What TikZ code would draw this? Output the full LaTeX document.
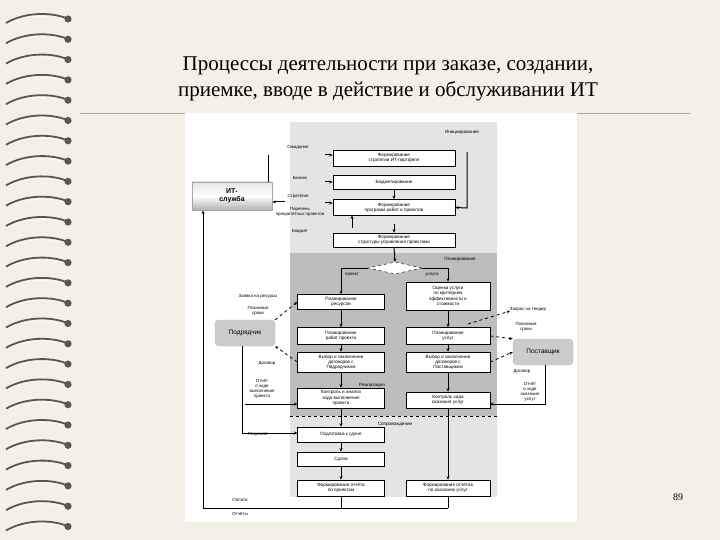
\documentclass[tikz,border=0pt]{standalone}
\usepackage{fontspec}
\setmainfont{Liberation Serif}
\setsansfont{Liberation Sans}
\usetikzlibrary{shapes.geometric,arrows.meta}
\definecolor{slidebg}{HTML}{F4F0E8}
\definecolor{ringc}{HTML}{5A5650}
\definecolor{rulec}{HTML}{B8A888}
\definecolor{panelA}{HTML}{E4E4E4}
\definecolor{panelB}{HTML}{BDBDBD}
\tikzset{
 pb/.style={draw=black,line width=0.6pt,fill=white,font=\sffamily\fontsize{4.6}{5.2}\selectfont,align=center,inner sep=0.5pt},
 lbl/.style={font=\sffamily\fontsize{4.4}{5}\selectfont,align=center,inner sep=0.5pt},
 plbl/.style={font=\sffamily\fontsize{4.6}{5.2}\selectfont,inner sep=0.5pt},
 ar/.style={-{Stealth[length=3.5pt,width=3pt]},line width=1pt},
 ln/.style={line width=1pt},
 dar/.style={-{Stealth[length=3.5pt,width=3pt]},line width=0.8pt,dashed},
 actor/.style={rounded corners=4pt,fill=gray!40,draw=gray!55,font=\sffamily\fontsize{6.5}{7}\selectfont,minimum width=60pt,minimum height=26pt}
}
\begin{document}
\begin{tikzpicture}[x=1pt,y=-1pt]
\useasboundingbox (0,0) rectangle (720,540);
\fill[slidebg] (0,0) rectangle (720,540);
% binder rings
\foreach \k in {0,...,25}{
 \pgfmathsetmacro{\yy}{18+\k*20.3}
 \draw[ringc,line width=1.8pt] (6,\yy+5) .. controls (25,\yy-6) and (50,\yy-6) .. (66,\yy);
 \fill[ringc] (68,\yy+1) circle (3.6pt);
 \draw[white,line width=0.5pt] (8,\yy+6) .. controls (25,\yy-3) and (48,\yy-3) .. (62,\yy+1);
}
% title
\node[font=\fontsize{21}{26}\selectfont,align=center] (title) at (388,79) {Процессы деятельности при заказе, создании,\\приемке, вводе в действие и обслуживании ИТ};
\draw[rulec,line width=0.8pt] (80,113) -- (690,113);
\node[font=\fontsize{10}{12}\selectfont] (pg) at (678,497) {89};
% picture area
\fill[white] (185,113) rectangle (577,522);
\fill[panelA] (290,122) rectangle (497,253);
\fill[panelB] (290,253) rectangle (497,416);
\fill[panelA] (290,416) rectangle (497,497);
\draw[dashed,line width=0.8pt] (290,416.5) -- (497,416.5);
\node[plbl] (l1) at (462,132) {Инициирование};
\node[plbl] (l2) at (460,259) {Планирование};
\node[plbl] (l3) at (372,385) {Реализация};
\node[plbl] (l4) at (395,424) {Сопровождение};
% initiation boxes
\node[pb,minimum width=122pt,minimum height=16pt] (b1) at (394,158) {Формирование\\стратегии ИТ-портфеля};
\node[pb,minimum width=122pt,minimum height=14pt] (b2) at (394,182) {Бюджетирование};
\node[pb,minimum width=122pt,minimum height=16pt] (b3) at (394,207.5) {Формирование\\программ работ и проектов};
\node[pb,minimum width=122pt,minimum height=14pt] (b4) at (394,240) {Формирование\\структуры управления проектами};
\node[lbl] (t1) at (298,147) {Ожидания};
\node[lbl] (t2) at (300,178) {Бизнес};
\node[lbl] (t3) at (298,196) {Стратегия};
\node[lbl] (t4) at (300,212) {Перечень\\приоритетных проектов};
\node[lbl] (t5) at (300,231) {Бюджет};
\coordinate (c1) at (325,155);
\draw[ar] (c1) -- (b1.west|-c1);
\coordinate (c2) at (325,182);
\draw[ar] (c2) -- (b2.west);
\coordinate (c3) at (325,203);
\draw[ar] (c3) -- (b3.west|-c3);
\draw[ar] (b2.south) -- (b3.north);
\coordinate (c5) at (394,224);
\draw[ar] (c5) -- (b4.north);
\coordinate (c6) at (352,228);
\draw[ar] (c6) -- (352,215.5);
\coordinate (r1) at (467,152);
\draw[ar] (r1) -- (467,208) -- (b3.east);
% IT service
\node[draw=gray!70,line width=0.8pt,top color=gray!20,bottom color=gray!60,middle color=white,font=\sffamily\bfseries\fontsize{7}{7.5}\selectfont,align=center,minimum width=80pt,minimum height=28pt] (it) at (232,196) {ИТ-\\служба};
\coordinate (c7) at (285,202);
\draw[ar] (c7) -- (it.east|-c7);
\draw[ln] (268,155) -- (268,182);
% planning
\node[diamond,draw,dashed,fill=white,minimum width=54pt,minimum height=12pt,inner sep=0pt] (dm) at (395,268) {};
\draw[ar] (b4.south) -- (dm.north);
\node[lbl] (tp) at (352,275) {проект};
\node[lbl] (tu) at (432,275) {услуга};
\node[pb,minimum width=87pt,minimum height=15pt] (p1) at (341,302) {Планирование\\ресурсов};
\node[pb,minimum width=87pt,minimum height=17pt] (p2) at (341,336) {Планирование\\работ проекта};
\node[pb,minimum width=87pt,minimum height=20pt] (p3) at (341,362) {Выбор и заключение\\договоров с\\Подрядчиком};
\node[pb,minimum width=87pt,minimum height=20pt] (p4) at (341,398) {Контроль и анализ\\хода выполнения\\проекта};
\node[pb,minimum width=84pt,minimum height=28pt] (q1) at (448,296) {Оценка услуги\\по критериям\\эффективности и\\стоимости};
\node[pb,minimum width=84pt,minimum height=17pt] (q2) at (448,336) {Планирование\\услуг};
\node[pb,minimum width=84pt,minimum height=20pt] (q3) at (448,362) {Выбор и заключение\\договоров с\\Поставщиком};
\node[pb,minimum width=84pt,minimum height=16pt] (q4) at (448,400) {Контроль хода\\оказания услуг};
\coordinate (dl) at (341,268);
\coordinate (dr) at (448,268);
\draw[ln] (dm.west) -- (dl); \draw[ar] (dl) -- (p1.north);
\draw[ln] (dm.east) -- (dr); \draw[ar] (dr) -- (q1.north);
\draw[ar] (p1) -- (p2); \draw[ar] (p2) -- (p3); \draw[ar] (p3) -- (p4);
\draw[ar] (q1) -- (q2); \draw[ar] (q2) -- (q3); \draw[ar] (q3) -- (q4);
% support
\node[pb,minimum width=87pt,minimum height=15pt] (s1) at (341,434.5) {Подготовка к сдаче};
\node[pb,minimum width=87pt,minimum height=14pt] (s2) at (341,459) {Сдача};
\node[pb,minimum width=87pt,minimum height=16pt] (s3) at (341,488) {Формирование отчёта\\по проектам};
\node[pb,minimum width=84pt,minimum height=16pt] (s4) at (448,488) {Формирование отчётов\\по оказанию услуг};
\draw[ar] (p4) -- (s1); \draw[ar] (s1) -- (s2); \draw[ar] (s2) -- (s3);
\draw[ar] (q4) -- (s4);
% actors
\node[actor] (pod) at (245,333) {Подрядчик};
\node[actor] (pos) at (543,352) {Поставщик};
\node[lbl] (a1) at (258,296) {Заявка на ресурсы};
\node[lbl] (a2) at (258,311) {Плановые\\сроки};
\node[lbl] (a3) at (267,363) {Договор};
\node[lbl] (a4) at (262,389) {Отчёт\\о ходе\\выполнения\\проекта};
\node[lbl] (a5) at (258,434) {Результат};
\node[lbl] (a6) at (240,500) {Оплата};
\node[lbl] (a7) at (240,514) {Отчёты};
\node[lbl] (b5) at (528,309) {Запрос на тендер};
\node[lbl] (b6) at (526,327) {Плановые\\сроки};
\node[lbl] (b7) at (522,371) {Договор};
\node[lbl] (b8) at (530,392) {Отчёт\\о ходе\\оказания\\услуг};
\draw[dar] (pod.north east) -- (p1.west);
\draw[dar] (p3.west) -- (pod.south east);
\coordinate (c8) at (245,404);
\draw[ar] (c8) -- (297.5,404);
\draw[dar] (q2.east) -- (pos.north west);
\coordinate (c9) at (468,324);
\draw[dar] (c9) -- (510,311);
\draw[dar] (q3.east) -- (pos.west);
\coordinate (c11) at (545,404);
\draw[ar] (pos.south-|c11) -- (c11) -- (490,404);
\coordinate (c10) at (242,346);
\coordinate (c12) at (242,433);
\draw[ar] (c10) -- (c12) -- (297.5,433);
\coordinate (lp) at (341,508);
\coordinate (rp) at (448,508);
\coordinate (lc) at (203,508);
\draw[ln] (s3.south) -- (lp);
\draw[ln] (s4.south) -- (rp);
\draw[ln] (rp) -- (lc);
\draw[ar] (lc) -- (203,210.5);
\end{tikzpicture}
\end{document}
